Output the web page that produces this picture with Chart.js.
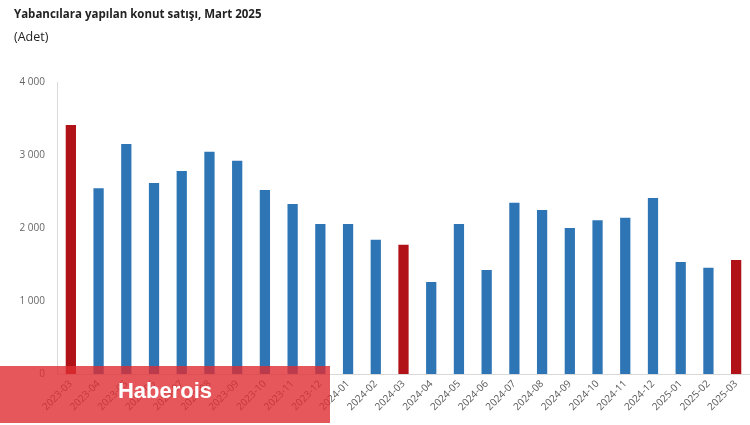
<!DOCTYPE html>
<html>
<head>
<meta charset="utf-8">
<script src="https://cdn.jsdelivr.net/npm/chart.js@4.4.1/dist/chart.umd.min.js"></script>
<style>
  body { margin: 0; background: #fff; }
  #wrap { position: relative; width: 750px; height: 425px; }
  #title { position: absolute; left: 14px; top: 6px; font: bold 11.5px "Open Sans", sans-serif; color: #222; }
  #sub { position: absolute; left: 14px; top: 28px; font: 12.5px "Open Sans", sans-serif; color: #222; }
  #mark { position: absolute; left: 0; top: 366px; width: 330px; height: 57px; background: rgba(222, 45, 50, 0.8);
          color: #fff; font: bold 22px "Liberation Sans", sans-serif; text-align: center; line-height: 50px; }
</style>
</head>
<body>
<div id="wrap">
  <canvas id="myBarChart" width="750" height="425"></canvas>
  <div id="title">Yabancılara yapılan konut satışı, Mart 2025</div>
  <div id="sub">(Adet)</div>
  <div id="mark">Haberois</div>
</div>
<script>
var months = ["2023-03","2023-04","2023-05","2023-06","2023-07","2023-08","2023-09","2023-10","2023-11","2023-12",
  "2024-01","2024-02","2024-03","2024-04","2024-05","2024-06","2024-07","2024-08","2024-09","2024-10","2024-11","2024-12",
  "2025-01","2025-02","2025-03"];
var sales = [3410, 2545, 3150, 2615, 2780, 3045, 2920, 2520, 2330, 2055,
  2055, 1838, 1770, 1260, 2055, 1425, 2345, 2248, 2000, 2105, 2140, 2410,
  1535, 1455, 1563];
var marchMonths = ["2023-03", "2024-03", "2025-03"];
var yTicks = [0, 1000, 2000, 3000, 4000];

var barColors = months.map(function (m) {
  return marchMonths.indexOf(m) >= 0 ? "#b01218" : "#2e75b6";
});

new Chart(document.getElementById("myBarChart"), {
  type: 'bar',
  data: {
    labels: months,
    datasets: [{
      label: "Adet",
      data: sales,
      backgroundColor: barColors,
      barPercentage: 0.37,
      categoryPercentage: 1
    }]
  },
  options: {
    responsive: false,
    animation: false,
    layout: { padding: { top: 82, right: 0, left: 0, bottom: 0 } },
    plugins: {
      legend: { display: false },
      tooltip: { enabled: false }
    },
    scales: {
      x: {
        grid: { display: false, drawTicks: false },
        border: { color: "#d9d9d9" },
        ticks: {
          color: "#595959",
          font: { family: "Open Sans", size: 10 },
          minRotation: 45, maxRotation: 45,
          padding: 4
        },
        afterFit: function (axis) { axis.height = 51; }
      },
      y: {
        min: 0, max: 4000,
        grid: { display: false, drawTicks: false },
        border: { color: "#d9d9d9" },
        afterBuildTicks: function (axis) {
          axis.ticks = yTicks.map(function (v) { return { value: v }; });
        },
        ticks: {
          color: "#666666",
          font: { family: "Open Sans", size: 10 },
          padding: 12,
          callback: function (v) {
            return v >= 1000 ? Math.floor(v / 1000) + " " + String(v % 1000).padStart(3, "0") : String(v);
          }
        },
        afterFit: function (axis) { axis.width = 57; }
      }
    }
  }
});
</script>
</body>
</html>
